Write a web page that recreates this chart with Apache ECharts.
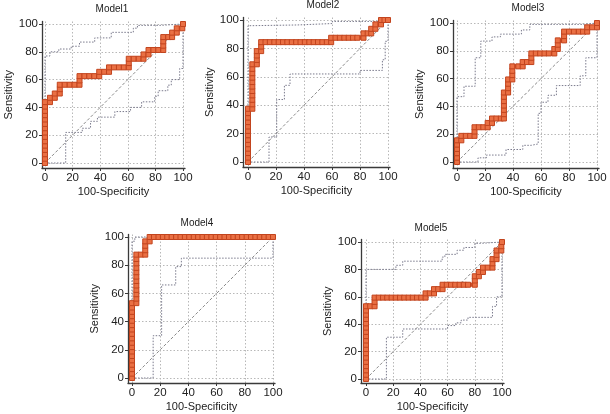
<!DOCTYPE html>
<html><head><meta charset="utf-8">
<script src="https://cdn.jsdelivr.net/npm/echarts@6/dist/echarts.min.js"></script>
<style>html,body{margin:0;padding:0;background:#fff}#c{width:610px;height:414px}</style>
</head><body><div id="c"></div>
<script>
const titles = ['Model1','Model2','Model3','Model4','Model5'];
const tickValues = [0,20,40,60,80,100];
const xName = '100-Specificity';
const yName = 'Sensitivity';
const diag = [[0,0],[100,100]];

const roc1 = [[0,0],[0,3.1],[0,6.3],[0,9.4],[0,12.5],[0,15.6],[0,18.8],[0,21.9],[0,25],[0,28.1],[0,31.3],[0,34.4],[0,37.5],[0,40.6],[0,43.8],
[3.6,43.8],[3.6,46.9],[7.1,46.9],[7.1,50],[10.7,50],[10.7,53.1],[10.7,56.3],[14.3,56.3],[17.9,56.3],[21.4,56.3],[25,56.3],[25,59.4],[25,62.5],[28.6,62.5],[32.1,62.5],[35.7,62.5],[39.3,62.5],[39.3,65.6],[42.9,65.6],[46.4,65.6],[46.4,68.8],[50,68.8],[53.6,68.8],[57.1,68.8],[60.7,68.8],[60.7,71.9],[60.7,75],[64.3,75],[67.9,75],[71.4,75],[71.4,78.1],[75,78.1],[75,81.3],[78.6,81.3],[82.1,81.3],[85.7,81.3],[85.7,84.4],[85.7,87.5],[85.7,90.6],[89.3,90.6],[92.1,90.6],[92.1,93.8],[95.5,93.8],[95.5,96.9],[99.5,96.9],[100,100]];
const upper1 = [[0,0],[0,77],[3.6,77],[3.6,80],[10,80],[10,82],[19,82],[19,84],[25,84],[25,87],[36,87],[36,90],[48,90],[48,94],[64,94],[64,97],[67,97],[67,99],[83,99],[83,100],[100,100]];
const lower1 = [[0,0],[15,0],[15,22],[27,22],[27,25],[33,25],[33,30],[38,30],[38,33],[50.6,33],[50.6,37],[62,37],[62,40],[70,40],[70,44],[79.5,44],[79.5,48],[82,48],[82,52],[89,52],[89,56],[91.5,56],[91.5,60],[97.6,60],[97.6,68],[100,68],[100,100]];

const roc2 = [[0,0],[0,3.1],[0,6.3],[0,9.4],[0,12.5],[0,15.6],[0,18.8],[0,21.9],[0,25],[0,28.1],[0,31.3],[0,34.4],[0,37.5],
[3.1,37.5],[3.1,40.6],[3.1,43.8],[3.1,46.9],[3.1,50],[3.1,53.1],[3.1,56.3],[3.1,59.4],[3.1,62.5],[3.1,65.6],[3.1,68.8],
[6.3,68.8],[6.3,71.9],[6.3,75],[6.3,78.1],[9.4,78.1],[9.4,81.3],[9.4,84.4],
[12.5,84.4],[15.6,84.4],[18.8,84.4],[21.9,84.4],[25,84.4],[28.1,84.4],[31.3,84.4],[34.4,84.4],[37.5,84.4],[40.6,84.4],[43.8,84.4],[46.9,84.4],[50,84.4],[53.1,84.4],[56.3,84.4],[59.4,84.4],
[59.4,87.5],[62.5,87.5],[65.6,87.5],[68.8,87.5],[71.9,87.5],[75,87.5],[78.1,87.5],[82.5,87.5],
[82.5,90.6],[85.5,90.6],[88,90.6],[88,93.8],[91,93.8],[91,96.9],[95,96.9],[95,100],[97.5,100],[100,100]];
const upper2 = [[0,0],[0,96],[3,96],[3,96.5],[35,96.5],[35,97.5],[60,97.5],[60,99],[97,99],[97,100],[100,100]];
const lower2 = [[0,0],[15,0],[15,17.6],[20.5,17.6],[20.5,44],[26,44],[26,54],[30,54],[30,62],[80,62],[80,64.5],[96,64.5],[96,72],[98,72],[98,85],[100,85],[100,100]];

const roc3 = [[0,0],[0,3.1],[0,6.3],[0,9.4],[0,12.5],[0,15.6],
[3.1,15.6],[3.1,18.8],[6.3,18.8],[9.4,18.8],[12.5,18.8],[12.5,21.9],[12.5,25],[15.6,25],[18.8,25],[21.9,25],[21.9,28.1],[25,28.1],[25,31.3],[28.1,31.3],[31.3,31.3],[33.5,31.3],
[33.5,34.4],[33.5,37.5],[33.5,40.6],[33.5,43.8],[33.5,46.9],[33.5,50],[36.5,50],[36.5,53.1],[36.5,56.3],[36.5,59.4],[39.5,59.4],[39.5,62.5],[39.5,65.6],[39.5,68.8],[43.8,68.8],[46.9,68.8],[46.9,71.9],[50,71.9],[53.1,71.9],[53.1,75],[53.1,78.1],[56.3,78.1],[59.4,78.1],[62.5,78.1],[65.6,78.1],[69.5,78.1],[69.5,81.3],[72,81.3],[72,84.4],[72,87.5],[76.5,87.5],[76.5,90.6],[76.5,93.8],[80,93.8],[83.5,93.8],[87,93.8],[90,93.8],[93,93.8],[93,96.9],[96.5,96.9],[100,96.9],[100,100]];
const upper3 = [[0,0],[0,47],[5,47],[5,54.5],[13,54.5],[13,75],[17,75],[17,87],[25,87],[25,90],[31,90],[31,92],[46,92],[46,95],[52,95],[52,99],[90,99],[90,100],[100,100]];
const lower3 = [[0,0],[15,0],[15,3],[21,3],[21,5],[35,5],[35,9],[47,9],[47,12],[53,12],[53,13],[58,13],[58,35],[60,35],[60,43],[65,43],[65,48],[71,48],[71,55],[88,55],[88,62],[92,62],[92,75],[100,75],[100,100]];

const roc4 = [[0,0],[0,3.1],[0,6.3],[0,9.4],[0,12.5],[0,15.6],[0,18.8],[0,21.9],[0,25],[0,28.1],[0,31.3],[0,34.4],[0,37.5],[0,40.6],[0,43.8],[0,46.9],[0,50],[0,53.1],
[3.1,53.1],[3.1,56.3],[3.1,59.4],[3.1,62.5],[3.1,65.6],[3.1,68.8],[3.1,71.9],[3.1,75],[3.1,78.1],[3.1,81.3],[3.1,84.4],[3.1,87.5],
[6.3,87.5],[9.4,87.5],[9.4,90.6],[9.4,93.8],[9.4,96.9],[12.5,96.9],[12.5,100],
[15.6,100],[18.8,100],[21.9,100],[25,100],[28.1,100],[31.3,100],[34.4,100],[37.5,100],[40.6,100],[43.8,100],[46.9,100],[50,100],[53.1,100],[56.3,100],[59.4,100],[62.5,100],[65.6,100],[68.8,100],[71.9,100],[75,100],[78.1,100],[81.3,100],[84.4,100],[87.5,100],[90.6,100],[93.8,100],[96.9,100],[100,100]];
const upper4 = [[0,0],[0,97],[2,97],[2,100],[100,100]];
const lower4 = [[0,0],[15,0],[15,30],[21,30],[21,66],[31,66],[31,79],[35,79],[35,85],[100,85],[100,100]];

const roc5 = [[0,0],[0,3.1],[0,6.3],[0,9.4],[0,12.5],[0,15.6],[0,18.8],[0,21.9],[0,25],[0,28.1],[0,31.3],[0,34.4],[0,37.5],[0,40.6],[0,43.8],[0,46.9],[0,50],[0,53.1],
[3.1,53.1],[6.3,53.1],[6.3,56.3],[6.3,59.4],[9.4,59.4],[12.5,59.4],[15.6,59.4],[18.8,59.4],[21.9,59.4],[25,59.4],[28.1,59.4],[31.3,59.4],[34.4,59.4],[37.5,59.4],[40.6,59.4],[43.8,59.4],
[43.8,62.5],[46.9,62.5],[50,62.5],[50,65.6],[53.1,65.6],[56.3,65.6],[56.3,68.8],[59.4,68.8],[62.5,68.8],[65.6,68.8],[68.8,68.8],[71.9,68.8],[75,68.8],[80,68.8],
[80,71.9],[80,75],[83,75],[83,78.1],[86,78.1],[86,81.3],[89.5,81.3],[93,81.3],[93,84.4],[93,87.5],[96,87.5],[96,90.6],[96,93.8],[99.5,93.8],[99.5,96.9],[100,100]];
const upper5 = [[0,0],[0,80],[22,80],[22,83],[27,83],[27,86],[56,86],[56,89],[58,89],[58,91],[67,91],[67,94],[72,94],[72,96],[80,96],[80,99],[84,99],[84,100],[100,100]];
const lower5 = [[0,0],[15,0],[15,30.5],[27,30.5],[27,36.5],[60,36.5],[60,39],[66,39],[66,41],[70,41],[70,43],[75,43],[75,45],[93,45],[93,53],[96,53],[96,60],[100,60],[100,100]];

const rocs = [roc1, roc2, roc3, roc4, roc5];
const uppers = [upper1, upper2, upper3, upper4, upper5];
const lowers = [lower1, lower2, lower3, lower4, lower5];

// layout: pixel positions of data 0/100 and axis lines, plus title centre
const panels = [
  {x0:45, x100:183, y0:163, y100:24, axL:42, axB:168, tx:112, ty:4, nameGapY:27},
  {x0:248, x100:388, y0:162, y100:20, axL:243, axB:167, tx:323, ty:0, nameGapY:26},
  {x0:457, x100:597, y0:162, y100:23, axL:453, axB:168, tx:528, ty:3, nameGapY:25},
  {x0:132, x100:273, y0:378, y100:237, axL:128, axB:383, tx:197, ty:218, nameGapY:27},
  {x0:366, x100:502, y0:379, y100:242, axL:361, axB:383, tx:431, ty:223, nameGapY:24}
];

const FONT = 'Liberation Sans, Arial, sans-serif';
const grids = [], xAxes = [], yAxes = [], series = [], titleList = [];
panels.forEach((p, i) => {
  const ppx = (p.x100 - p.x0) / 100, ppy = (p.y0 - p.y100) / 100;
  const xmin = (p.axL - p.x0) / ppx, xmax = 100 + 2 / ppx;
  const ymin = -(p.axB - p.y0) / ppy, ymax = 100 + 2.5 / ppy;
  grids.push({left: p.axL, top: p.y100 - 2.5, width: p.x100 + 2 - p.axL, height: p.axB - (p.y100 - 2.5)});
  const common = {
    type: 'value', gridIndex: i,
    axisLine: {show: true, onZero: false, lineStyle: {color: '#3a3a3a', width: 1.3}},
    axisTick: {show: true, inside: false, length: 3, customValues: tickValues, lineStyle: {color: '#3a3a3a'}},
    axisLabel: {customValues: tickValues, color: '#222', fontSize: 11.5, fontFamily: FONT, margin: 4},
    splitLine: {show: true, lineStyle: {color: '#b8b8b8', type: [1.5, 2], width: 1}},
    nameLocation: 'middle',
    nameTextStyle: {color: '#222', fontSize: 11, fontFamily: FONT}
  };
  xAxes.push(Object.assign({}, common, {min: xmin, max: xmax, name: xName, nameGap: 18}));
  yAxes.push(Object.assign({}, common, {min: ymin, max: ymax, name: yName, nameGap: p.nameGapY}));
  titleList.push({text: titles[i], left: p.tx, top: p.ty, textAlign: 'center', padding: 0,
    textStyle: {fontSize: 10, fontWeight: 'normal', color: '#222', fontFamily: FONT}});
  const band = (d) => ({type: 'line', xAxisIndex: i, yAxisIndex: i, data: d, showSymbol: false, symbol: 'none', silent: true, clip: false,
    lineStyle: {color: '#7a7a8c', width: 1, type: [1.5, 1.5]}, z: 2});
  series.push(band(uppers[i]));
  series.push(band(lowers[i]));
  series.push({type: 'line', xAxisIndex: i, yAxisIndex: i, data: diag, symbol: 'none', silent: true, clip: false,
    lineStyle: {color: '#8a8a8a', width: 1, type: [3, 2]}, z: 2});
  series.push({type: 'line', xAxisIndex: i, yAxisIndex: i, data: rocs[i], symbol: 'rect', symbolSize: 5, clip: false,
    itemStyle: {color: '#ea7044', borderColor: '#c2441e', borderWidth: 1},
    lineStyle: {color: '#cf4f28', width: 4}, z: 5, animation: false});
});

const chart = echarts.init(document.getElementById('c'), null, {renderer: 'canvas'});
chart.setOption({
  animation: false,
  backgroundColor: '#fff',
  title: titleList,
  grid: grids,
  xAxis: xAxes,
  yAxis: yAxes,
  series: series
});
</script></body></html>
